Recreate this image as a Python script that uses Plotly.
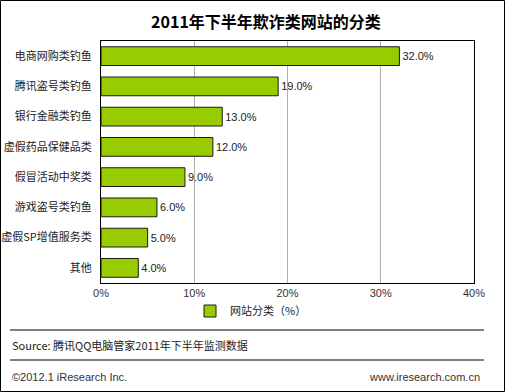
import plotly.graph_objects as go

categories = ["电商网购类钓鱼", "腾讯盗号类钓鱼", "银行金融类钓鱼", "虚假药品保健品类",
              "假冒活动中奖类", "游戏盗号类钓鱼", "虚假SP增值服务类", "其他"]
values = [32.0, 19.0, 13.0, 12.0, 9.0, 6.0, 5.0, 4.0]
tick_vals = [0, 10, 20, 30, 40]
tick_text = ["0%", "10%", "20%", "30%", "40%"]
series_name = "网站分类（%）"

W, H = 505, 392
def px(x): return x / W
def py(y): return 1 - y / H

font_cjk = "Noto Sans CJK SC, Liberation Sans, sans-serif"

fig = go.Figure()
fig.add_trace(go.Bar(
    y=categories, x=values, orientation="h", name=series_name,
    marker=dict(color="#99CC00", line=dict(color="#1a1a1a", width=1)),
    text=[f"{v:.1f}%" for v in values], textposition="outside",
    textfont=dict(size=11, color="#222222", family="Liberation Sans, sans-serif"),
    cliponaxis=False, width=0.62,
))

fig.update_layout(
    width=W, height=H, margin=dict(l=0, r=0, t=0, b=0, autoexpand=False),
    paper_bgcolor="white", plot_bgcolor="white",
    showlegend=True,
    legend=dict(x=px(190), y=py(311), xanchor="left", yanchor="middle",
                font=dict(size=11, family=font_cjk, color="#222"),
                itemwidth=30, bgcolor="rgba(0,0,0,0)"),
    xaxis=dict(domain=[px(101), px(474)], range=[0, 40], tickvals=tick_vals,
               ticktext=tick_text, showgrid=True, gridcolor="#b0b0b0", gridwidth=1,
               showline=True, linecolor="black", mirror=True, zeroline=False,
               ticks="", tickfont=dict(size=11, color="#333", family="Liberation Sans, sans-serif"),
               anchor="y", automargin=False),
    yaxis=dict(domain=[py(283), py(41)], autorange="reversed",
               showline=True, linecolor="black", mirror=True, ticks="",
               tickfont=dict(size=11, color="#222", family=font_cjk),
               ticklabelstandoff=6, automargin=False),
    title=dict(text="<b>2011年下半年欺诈类网站的分类</b>", x=px(266), xanchor="center",
               y=py(22), yanchor="middle", xref="paper", yref="paper",
               font=dict(size=16, color="black", family=font_cjk)),
    bargap=0.38,
)

# outer frame
fig.add_shape(type="rect", xref="paper", yref="paper", x0=px(0.5), x1=px(504.5),
              y0=py(391.5), y1=py(0.5), line=dict(color="black", width=1))
# separator lines
for yy in [330, 360]:
    fig.add_shape(type="line", xref="paper", yref="paper", x0=px(10), x1=px(484),
                  y0=py(yy), y1=py(yy), line=dict(color="black", width=1))

fig.add_annotation(text="Source: 腾讯QQ电脑管家2011年下半年监测数据", xref="paper", yref="paper",
                   x=px(10), y=py(345), xanchor="left", yanchor="middle", showarrow=False,
                   font=dict(size=11, color="#222", family=font_cjk))
fig.add_annotation(text="©2012.1 iResearch Inc.", xref="paper", yref="paper",
                   x=px(10), y=py(377), xanchor="left", yanchor="middle", showarrow=False,
                   font=dict(size=11, color="#333", family="Liberation Sans, sans-serif"))
fig.add_annotation(text="www.iresearch.com.cn", xref="paper", yref="paper",
                   x=px(482), y=py(377), xanchor="right", yanchor="middle", showarrow=False,
                   font=dict(size=11, color="#333", family="Liberation Sans, sans-serif"))

fig.write_html("out.html", config={"displayModeBar": False},
               post_script="document.body.style.margin='0';document.body.style.overflow='hidden';")
